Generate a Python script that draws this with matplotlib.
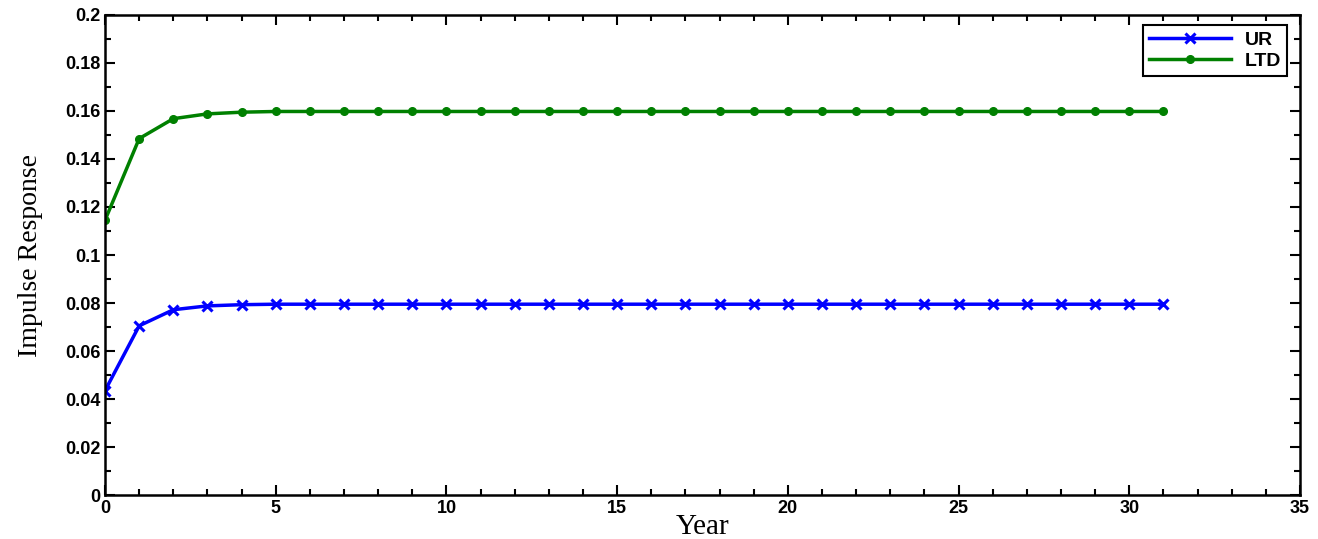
import numpy as np
import matplotlib
matplotlib.use('Agg')
import matplotlib.pyplot as plt
from matplotlib.ticker import MultipleLocator, FuncFormatter

years = list(range(32))
ur = [0.0435, 0.0705, 0.0772, 0.0788, 0.0793, 0.0795] + [0.0795] * 26
ltd = [0.1145, 0.1485, 0.1568, 0.1588, 0.1595, 0.1598] + [0.1598] * 26

fig = plt.figure(figsize=(13.18, 5.39), dpi=100)
ax = fig.add_axes([0.0797, 0.0816, 0.9066, 0.8906])

ax.plot(years, ur, color='#0000ff', lw=2.5, marker='x', ms=7, mew=2.2, label='UR')
ax.plot(years, ltd, color='#008000', lw=2.5, marker='o', ms=5.5, label='LTD')

ax.set_xlim(0, 35)
ax.set_ylim(0, 0.2)
ax.xaxis.set_major_locator(MultipleLocator(5))
ax.xaxis.set_minor_locator(MultipleLocator(1))
ax.yaxis.set_major_locator(MultipleLocator(0.02))
ax.yaxis.set_minor_locator(MultipleLocator(0.01))
ax.yaxis.set_major_formatter(FuncFormatter(lambda v, p: '%g' % round(v, 4)))
ax.tick_params(which='both', direction='in', top=True, right=True, width=1.5)
ax.tick_params(which='major', length=7, labelsize=13)
ax.tick_params(which='minor', length=4)
for lab in ax.get_xticklabels() + ax.get_yticklabels():
    lab.set_fontfamily('Liberation Sans')
    lab.set_fontweight('bold')
for s in ax.spines.values():
    s.set_linewidth(1.8)

ax.set_xlabel('Year', fontfamily='Liberation Serif', fontsize=21, labelpad=-2)
ax.set_ylabel('Impulse Response', fontfamily='Liberation Serif', fontsize=20, labelpad=16)

leg = ax.legend(loc='upper right', bbox_to_anchor=(0.989, 0.979), borderaxespad=0,
                fancybox=False, edgecolor='black', framealpha=1, borderpad=0.3,
                handlelength=4.2, labelspacing=0.2, handletextpad=0.7,
                prop={'family': 'Liberation Sans', 'weight': 'bold', 'size': 14})
leg.get_frame().set_linewidth(1.5)

fig.savefig('out.png', dpi=100)
